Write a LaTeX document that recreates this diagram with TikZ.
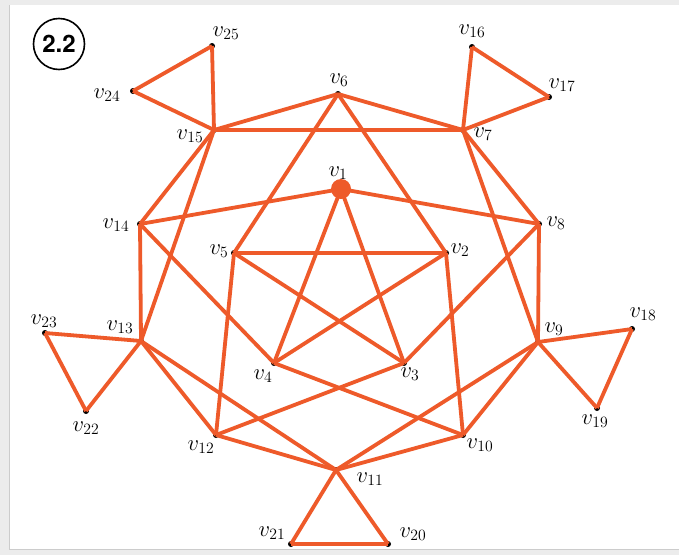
\RequirePackage{fix-cm}
\documentclass[tikz,border=0pt]{standalone}
\usepackage{fontspec}
\newfontfamily\tagfont{TeX Gyre Heros}
\definecolor{edgeor}{RGB}{238,90,42}
\definecolor{shadowgray}{RGB}{236,236,236}
\begin{document}
\begin{tikzpicture}[x=1pt,y=-1pt,
  edge/.style={draw=edgeor,line width=3.8pt},
  vdot/.style={fill=black},
  vlab/.style={inner sep=0pt,anchor=center,font=\fontsize{22.5}{26}\selectfont}]
\useasboundingbox (0,0) rectangle (679,555);
\fill[shadowgray] (0,0) rectangle (679,555);
\fill[white] (10,5) rectangle (679,549);
\draw[gray!40,line width=0.6pt] (9.5,5) -- (9.5,549.5) -- (679,549.5);
% vertices
\coordinate (v1) at (341,189);
\coordinate (v2) at (446,253);
\coordinate (v3) at (404,363);
\coordinate (v4) at (274,363);
\coordinate (v5) at (234,253);
\coordinate (v6) at (338,94);
\coordinate (v7) at (463,130);
\coordinate (v8) at (539,224);
\coordinate (v9) at (538,342);
\coordinate (v10) at (463,435);
\coordinate (v11) at (336,470);
\coordinate (v12) at (216,435);
\coordinate (v13) at (141,341);
\coordinate (v14) at (140,224);
\coordinate (v15) at (214,130);
\coordinate (v16) at (472,47);
\coordinate (v17) at (549,97);
\coordinate (v18) at (632,329);
\coordinate (v19) at (597,408);
\coordinate (v20) at (388,544);
\coordinate (v21) at (291,544);
\coordinate (v22) at (86,411);
\coordinate (v23) at (45,333);
\coordinate (v24) at (133,91);
\coordinate (v25) at (212,46);
% dots
\foreach \i in {2,...,25} {\fill[vdot] (v\i) circle (3pt);}
% edges
\foreach \a/\b in {v24/v25,v25/v15,v15/v24,
  v16/v17,v16/v7,v17/v7,
  v18/v9,v18/v19,v19/v9,
  v20/v21,v21/v11,v20/v11,
  v23/v13,v23/v22,v22/v13,
  v15/v6,v6/v7,v15/v7,
  v7/v8,v8/v9,v9/v10,v10/v11,v11/v12,v12/v13,v13/v14,v14/v15,
  v1/v14,v1/v8,v6/v5,v6/v2,v15/v13,v7/v9,v14/v4,v8/v3,
  v5/v12,v2/v10,v5/v2,v5/v3,v2/v4,v1/v4,v1/v3,
  v4/v10,v3/v12,v13/v11,v9/v11}
  {\draw[edge] (\a) -- (\b);}
\fill[edgeor] (v1) circle (10pt);
% labels
\node[vlab] (l1) at (338,173) {$v_{1}$};
\node[vlab] (l2) at (460,250) {$v_{2}$};
\node[vlab] (l3) at (410,374) {$v_{3}$};
\node[vlab] (l4) at (263,376) {$v_{4}$};
\node[vlab] (l5) at (219,251) {$v_{5}$};
\node[vlab] (l6) at (339,80) {$v_{6}$};
\node[vlab] (l7) at (483,134) {$v_{7}$};
\node[vlab] (l8) at (556,223) {$v_{8}$};
\node[vlab] (l9) at (554,329) {$v_{9}$};
\node[vlab] (l10) at (480,445) {$v_{10}$};
\node[vlab] (l11) at (370,479) {$v_{11}$};
\node[vlab] (l12) at (201,447) {$v_{12}$};
\node[vlab] (l13) at (120,327) {$v_{13}$};
\node[vlab] (l14) at (116,225) {$v_{14}$};
\node[vlab] (l15) at (190,136) {$v_{15}$};
\node[vlab] (l16) at (472,31) {$v_{16}$};
\node[vlab] (l17) at (562,85) {$v_{17}$};
\node[vlab] (l18) at (643,314) {$v_{18}$};
\node[vlab] (l19) at (595,421) {$v_{19}$};
\node[vlab] (l20) at (413,534) {$v_{20}$};
\node[vlab] (l21) at (272,533) {$v_{21}$};
\node[vlab] (l22) at (86,428) {$v_{22}$};
\node[vlab] (l23) at (44,321) {$v_{23}$};
\node[vlab] (l24) at (107,95) {$v_{24}$};
\node[vlab] (l25) at (226,33) {$v_{25}$};
% tag
\node[draw=black,line width=1.6pt,circle,minimum size=51pt,inner sep=0pt,
  font=\tagfont\bfseries\fontsize{24}{27}\selectfont] (tag) at (59,44) {2.2};
\end{tikzpicture}
\end{document}
